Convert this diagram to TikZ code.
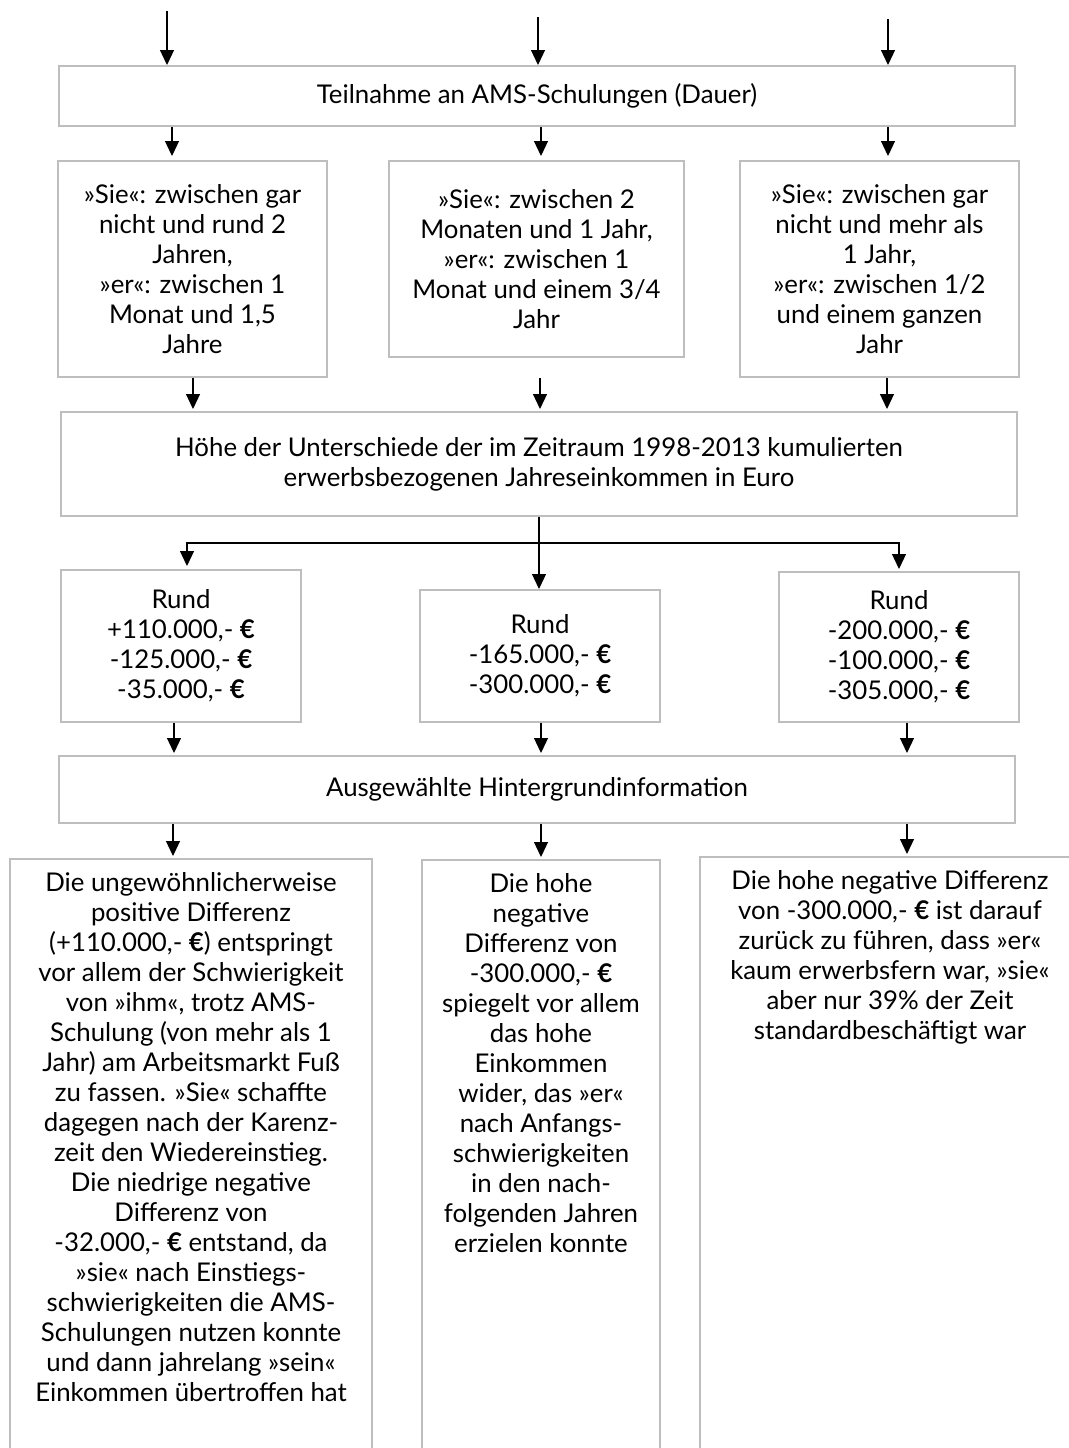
\documentclass[tikz,border=0pt]{standalone}
\usepackage{fontspec}
\setmainfont{Lato}
\usetikzlibrary{arrows.meta}
\definecolor{boxgray}{RGB}{190,190,190}
\newcommand{\eurb}{\textbf{€}}

\tikzset{
  box/.style={draw=boxgray, line width=1pt, align=center, inner sep=0pt},
  txt/.style={align=center, inner sep=0pt, anchor=north},
  arr/.style={-{Triangle[length=7.5pt,width=7pt]}, line width=0.6pt},
}

\begin{document}
\begin{tikzpicture}[x=0.5pt,y=-0.5pt,font=\fontsize{12.9}{15}\selectfont]
\useasboundingbox (0,0) rectangle (1069,1448);
\clip (0,0) rectangle (1069,1448);

%first row
\node[box, minimum width=478pt, minimum height=30pt] (A) at (537,96) {Teilnahme an AMS-Schulungen (Dauer)};

\node[box, minimum width=134.5pt, minimum height=108pt] (B1) at (192.5,269)
  {»Sie«: zwischen gar\\nicht und rund 2\\Jahren,\\»er«: zwischen 1\\Monat und 1,5\\Jahre};
\node[box, minimum width=147.5pt, minimum height=98pt] (B2) at (536.5,259)
  {»Sie«: zwischen 2\\Monaten und 1 Jahr,\\»er«: zwischen 1\\Monat und einem 3/4\\Jahr};
\node[box, minimum width=139.5pt, minimum height=108pt] (B3) at (879.5,269)
  {»Sie«: zwischen gar\\nicht und mehr als\\1 Jahr,\\»er«: zwischen 1/2\\und einem ganzen\\Jahr};

%income
\node[box, minimum width=478pt, minimum height=52pt] (C) at (539,464)
  {Höhe der Unterschiede der im Zeitraum 1998-2013 kumulierten\\erwerbsbezogenen Jahreseinkommen in Euro};

\node[box, minimum width=120pt, minimum height=76pt] (D1) at (181,646)
  {Rund\\+110.000,- \eurb\\-125.000,- \eurb\\-35.000,- \eurb};
\node[box, minimum width=120pt, minimum height=66pt] (D2) at (540,656)
  {Rund\\-165.000,- \eurb\\-300.000,- \eurb};
\node[box, minimum width=120pt, minimum height=75pt] (D3) at (899,647)
  {Rund\\-200.000,- \eurb\\-100.000,- \eurb\\-305.000,- \eurb};

%background
\node[box, minimum width=478pt, minimum height=33.5pt] (E) at (537,789.5) {Ausgewählte Hintergrundinformation};

\node[box, minimum width=181pt, minimum height=321pt] (F1) at (191,1180) {};
\node[box, minimum width=119pt, minimum height=320pt] (F2) at (541,1180) {};
\node[box, minimum width=190pt, minimum height=321pt] (F3) at (890,1178) {};

\node[txt] (F1t) at ([yshift=-7pt]F1.north)
  {Die ungewöhnlicherweise\\positive Differenz\\(+110.000,- \eurb) entspringt\\vor allem der Schwierigkeit\\von »ihm«, trotz AMS-\\Schulung (von mehr als 1\\Jahr) am Arbeitsmarkt Fuß\\zu fassen. »Sie« schaffte\\dagegen nach der Karenz-\\zeit den Wiedereinstieg.\\Die niedrige negative\\Differenz von\\-32.000,- \eurb{} entstand, da\\»sie« nach Einstiegs-\\schwierigkeiten die AMS-\\Schulungen nutzen konnte\\und dann jahrelang »sein«\\Einkommen übertroffen hat};
\node[txt] (F2t) at ([yshift=-7pt]F2.north)
  {Die hohe\\negative\\Differenz von\\-300.000,- \eurb\\spiegelt vor allem\\das hohe\\Einkommen\\wider, das »er«\\nach Anfangs-\\schwierigkeiten\\in den nach-\\folgenden Jahren\\erzielen konnte};
\node[txt] (F3t) at ([yshift=-7pt]F3.north)
  {Die hohe negative Differenz\\von -300.000,- \eurb{} ist darauf\\zurück zu führen, dass »er«\\kaum erwerbsfern war, »sie«\\aber nur 39\% der Zeit\\standardbeschäftigt war};

%arrows in
\coordinate (in1) at (167,11);
\coordinate (in2) at (538,17);
\coordinate (in3) at (888,19);
\draw[arr] (in1) -- (in1 |- A.north);
\draw[arr] (in2) -- (in2 |- A.north);
\draw[arr] (in3) -- (in3 |- A.north);

\draw[arr, shorten >=2pt] (A.south -| 172,0) -- (B1.north -| 172,0);
\draw[arr, shorten >=2pt] (A.south -| 541,0) -- (B2.north -| 541,0);
\draw[arr, shorten >=2pt] (A.south -| 888,0) -- (B3.north -| 888,0);

\coordinate (b2out) at (540,378);
\draw[arr, shorten >=1pt] (B1.south -| 193,0) -- (C.north -| 193,0);
\draw[arr, shorten >=1pt] (b2out) -- (b2out |- C.north);
\draw[arr, shorten >=1pt] (B3.south -| 887,0) -- (C.north -| 887,0);

%split
\coordinate (split) at (C.south |- 0,543);
\draw[line width=0.6pt] (C.south) -- (split);
\draw[arr, shorten >=1.5pt] (split) -| (D1.north -| 187,0);
\draw[arr] (split) -- (split |- D2.north);
\draw[arr, shorten >=1pt] (split) -| (D3.north -| 899,0);

\draw[arr, shorten >=1pt] (D1.south -| 174,0) -- (E.north -| 174,0);
\draw[arr, shorten >=1pt] (D2.south -| 541,0) -- (E.north -| 541,0);
\draw[arr, shorten >=1pt] (D3.south -| 907,0) -- (E.north -| 907,0);

\draw[arr, shorten >=1pt] (E.south -| 173,0) -- (F1.north -| 173,0);
\draw[arr, shorten >=1pt] (E.south -| 541,0) -- (F2.north -| 541,0);
\draw[arr, shorten >=1pt] (E.south -| 907,0) -- (F3.north -| 907,0);

\end{tikzpicture}
\end{document}
